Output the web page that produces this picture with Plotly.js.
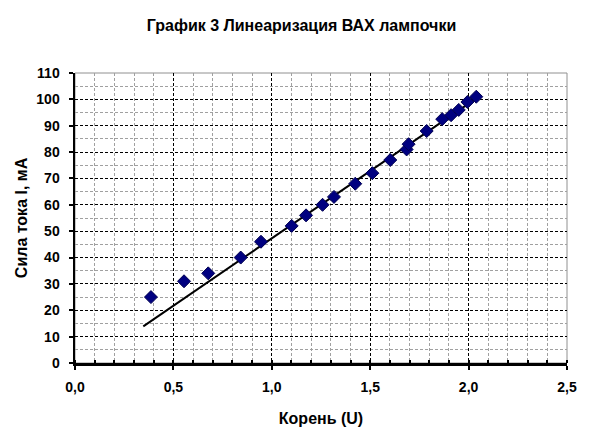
<!DOCTYPE html>
<html>
<head>
<meta charset="utf-8">
<script src="https://cdn.plot.ly/plotly-3.0.1.min.js"></script>
<style>
  html, body { margin: 0; padding: 0; background: #fff; }
  #chart { width: 603px; height: 442px; }
</style>
</head>
<body>
<div id="chart"></div>
<script>
// Корень (U) и ток I, мА
const rootU = [0.386, 0.554, 0.677, 0.842, 0.945, 1.101, 1.174, 1.258, 1.316, 1.424,
               1.511, 1.602, 1.685, 1.695, 1.787, 1.866, 1.911, 1.950, 1.994, 2.039];
const currentI = [25, 31, 34, 40, 46, 52, 56, 60, 63, 68,
                  72, 77, 81, 83, 88, 92.5, 94, 96, 99, 101];

// линия тренда (концы)
const trendX = [0.347, 2.041];
const trendY = [13.9, 100.5];

const xTicks = [0, 0.5, 1.0, 1.5, 2.0, 2.5];
const xTickText = ['0,0', '0,5', '1,0', '1,5', '2,0', '2,5'];

const font = 'Arial, "Liberation Sans", sans-serif';

const traces = [
  {
    x: trendX,
    y: trendY,
    type: 'scatter',
    mode: 'lines',
    line: { color: '#000000', width: 2 },
    hoverinfo: 'skip'
  },
  {
    x: rootU,
    y: currentI,
    type: 'scatter',
    mode: 'markers',
    marker: {
      symbol: 'diamond',
      size: 10,
      color: '#000080',
      line: { color: '#000050', width: 1 }
    }
  }
];

const axisCommon = {
  showline: true,
  linecolor: '#000000',
  linewidth: 2.5,
  ticks: 'outside',
  ticklen: 4,
  tickwidth: 2,
  tickcolor: '#000000',
  ticklabelstandoff: 6,
  zeroline: false,
  showgrid: true,
  gridcolor: '#000000',
  gridwidth: 1,
  griddash: '3px,2px',
  tickfont: { family: font, size: 14, color: '#000000', weight: 'bold' }
};

const layout = {
  width: 603,
  height: 442,
  showlegend: false,
  paper_bgcolor: '#ffffff',
  plot_bgcolor: '#ffffff',
  margin: { l: 75, r: 36, t: 73, b: 79 },
  title: {
    text: '<b>График 3 Линеаризация ВАХ лампочки</b>',
    font: { family: font, size: 16, color: '#000000' },
    x: 0.5,
    xanchor: 'center',
    y: 0.943,
    yanchor: 'middle'
  },
  xaxis: Object.assign({}, axisCommon, {
    range: [0, 2.5],
    tickvals: xTicks,
    ticktext: xTickText,
    minor: {
      dtick: 0.1,
      showgrid: true,
      gridcolor: '#a0a0a0',
      griddash: '3px,2px',
      gridwidth: 1,
      ticks: 'inside',
      ticklen: 3,
      tickcolor: '#000000'
    },
    title: {
      text: '<b>Корень (U)</b>',
      font: { family: font, size: 16, color: '#000000' },
      standoff: 19
    }
  }),
  yaxis: Object.assign({}, axisCommon, {
    range: [0, 110],
    dtick: 10,
    minor: {
      dtick: 5,
      showgrid: true,
      gridcolor: '#a0a0a0',
      griddash: '3px,2px',
      gridwidth: 1
    },
    title: {
      text: '<b>Сила тока I, мА</b>',
      font: { family: font, size: 16, color: '#000000' },
      standoff: 5
    }
  }),
  shapes: [
    {
      type: 'rect', xref: 'paper', yref: 'paper',
      x0: 0, x1: 1, y0: 0, y1: 1,
      line: { color: '#909090', width: 1 },
      layer: 'below'
    }
  ]
};

Plotly.newPlot('chart', traces, layout, { displayModeBar: false, staticPlot: true });
</script>
</body>
</html>
